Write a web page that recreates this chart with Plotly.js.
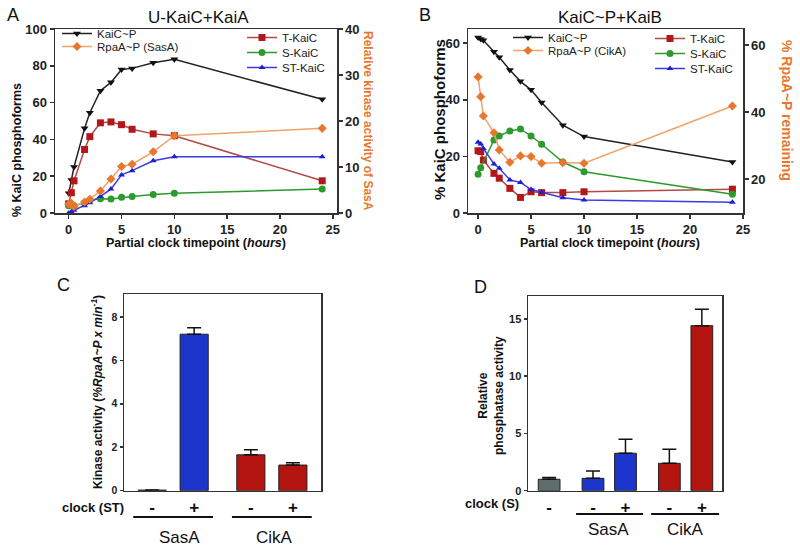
<!DOCTYPE html>
<html>
<head>
<meta charset="utf-8">
<script src="https://cdn.plot.ly/plotly-3.0.1.min.js"></script>
<style>html,body{margin:0;padding:0;background:#fff}#chart{width:800px;height:551px}</style>
</head>
<body>
<div id="chart"></div>
<script>
// Panel A: U-KaiC + KaiA
const timeA = [0, 0.25, 0.5, 1.5, 2, 3, 4, 5, 6, 8, 10, 24];
const kaicPA = [10.7, 18, 25, 46, 54.5, 66.5, 71, 78, 78.6, 81.7, 83.5, 61.8];
const rpaaSasA = [1.9, 2.1, 1.4, 2.4, 3.0, 4.8, 7.4, 10.1, 10.6, 13.3, 16.8, 18.4];
const tKaicA = [5, 11, 17.5, 34.5, 41.5, 49, 49.5, 48, 45.5, 43, 42, 17.5];
const sKaicA = [4, 4.5, 4, 5.5, 7, 7.8, 7.6, 8.5, 9, 10, 10.7, 13];
const stKaicA = [0, 0.7, 1.5, 4, 5.6, 9, 13, 20.7, 23, 28.4, 30.6, 30.6];

// Panel B: KaiC~P + KaiB
const timeB = [0, 0.25, 0.5, 1.5, 2, 3, 4, 5, 6, 8, 10, 24];
const timeBS = [0, 0.25, 1.5, 2, 3, 4, 5, 6, 8, 10, 24];
const kaicPB = [62, 61.5, 61, 57, 55, 50.5, 46.5, 43.5, 39, 31, 27, 18];
const rpaaCikA = [50.5, 44.6, 38.8, 33.8, 28.7, 25, 26.9, 26.7, 24.7, 24.9, 24.7, 41.8];
const tKaicB = [22, 21.7, 18.7, 14, 12.3, 8.7, 5.5, 7.5, 7.2, 7.2, 7.5, 8.4];
const sKaicB = [13.7, 16, 25.8, 27.2, 29, 29.7, 27.2, 24.3, 18, 14.6, 6.6];
const stKaicB = [25, 24.4, 22.8, 17.3, 15.8, 11.7, 10.8, 8.3, 7.3, 5.4, 4.6, 3.8];

// Panel C: kinase activity
const kinaseLabels = ['-', '+', '-', '+'];
const kinaseValues = [0.03, 7.2, 1.65, 1.18];
const kinaseErr = [0, 0.3, 0.23, 0.11];

// Panel D: relative phosphatase activity
const phosLabels = ['-', '-', '+', '-', '+'];
const phosValues = [1.0, 1.08, 3.27, 2.39, 14.41];
const phosErr = [0.15, 0.64, 1.22, 1.22, 1.43];

const FONT = 'Liberation Sans, Arial, sans-serif';
const W = 800, H = 551;
const px = v => v / W;
const py = v => 1 - v / H;

const BLACK = '#111111', ORANGE = '#e8772e', ORANGE_L = '#efa36a';
const RED = '#b3171a', RED_L = '#b24a45', GREEN = '#2c9a2c', BLUE = '#1c1fd2';
const BAR_BLUE = '#1c36cc', BAR_RED = '#b3140f', BAR_GRAY = '#5e6c6c';

// bar slot positions (group gap between SasA and CikA)
const cSlots = [0, 1, 2.35, 3.35];
const dSlots = [0, 1.35, 2.35, 3.7, 4.7];

function line(name, x, y, xa, ya, color, lcolor, symbol, legend, size) {
    return {
        type: 'scatter', mode: 'lines+markers', name: name, x: x, y: y,
        xaxis: xa, yaxis: ya, legend: legend,
        line: { color: lcolor, width: 1.5 },
        marker: { color: color, symbol: symbol, size: size || 7 }
    };
}

const traces = [
    line('KaiC~P', timeA, kaicPA, 'x', 'y', BLACK, '#222', 'triangle-down', 'legend'),
    line('RpaA~P (SasA)', timeA, rpaaSasA, 'x', 'y2', ORANGE, ORANGE_L, 'diamond', 'legend2'),
    line('T-KaiC', timeA, tKaicA, 'x', 'y', RED, RED_L, 'square', 'legend3'),
    line('S-KaiC', timeA, sKaicA, 'x', 'y', GREEN, GREEN, 'circle', 'legend4'),
    line('ST-KaiC', timeA, stKaicA, 'x', 'y', BLUE, '#3b3be6', 'triangle-up', 'legend5', 6),

    line('KaiC~P', timeB, kaicPB, 'x2', 'y3', BLACK, '#222', 'triangle-down', 'legend6'),
    line('RpaA~P (CikA)', timeB, rpaaCikA, 'x2', 'y4', ORANGE, ORANGE_L, 'diamond', 'legend7'),
    line('T-KaiC', timeB, tKaicB, 'x2', 'y3', RED, RED_L, 'square', 'legend8'),
    line('S-KaiC', timeBS, sKaicB, 'x2', 'y3', GREEN, GREEN, 'circle', 'legend9'),
    line('ST-KaiC', timeB, stKaicB, 'x2', 'y3', BLUE, '#3b3be6', 'triangle-up', 'legend10', 6),

    {
        type: 'bar', x: cSlots, y: kinaseValues, xaxis: 'x3', yaxis: 'y5', width: 0.67,
        showlegend: false,
        marker: { color: [BAR_GRAY, BAR_BLUE, BAR_RED, BAR_RED], line: { color: '#222', width: 1 } },
        error_y: { type: 'data', array: kinaseErr, arrayminus: kinaseErr.map(() => 0), color: '#111', thickness: 1.5, width: 7 }
    },
    {
        type: 'bar', x: dSlots, y: phosValues, xaxis: 'x4', yaxis: 'y6', width: 0.67,
        showlegend: false,
        marker: { color: [BAR_GRAY, BAR_BLUE, BAR_BLUE, BAR_RED, BAR_RED], line: { color: '#222', width: 1 } },
        error_y: { type: 'data', array: phosErr, arrayminus: phosErr.map(() => 0), color: '#111', thickness: 1.5, width: 7 }
    }
];

const axBase = {
    showgrid: false, zeroline: false, showline: true, linecolor: '#333', linewidth: 1.5,
    ticks: 'outside', ticklen: 4, tickcolor: '#333', tickwidth: 1.5,
    tickfont: { family: FONT, size: 13, color: '#222', weight: 'bold' }, fixedrange: true
};
const ax = o => Object.assign({}, axBase, o);

// one legend per entry so rows can sit as tightly as in the figure
function leg(x, yCenter) {
    return {
        x: px(x), y: py(yCenter - 14), xanchor: 'left', yanchor: 'top', bgcolor: 'rgba(0,0,0,0)',
        font: { family: FONT, size: 11.5, color: '#222' }, itemwidth: 30
    };
}

function ann(text, x, y, size, o) {
    return Object.assign({
        text: text, x: px(x), y: py(y), xref: 'paper', yref: 'paper', showarrow: false,
        xanchor: 'center', yanchor: 'middle', font: { family: FONT, size: size, color: '#111' }
    }, o || {});
}

const layout = {
    width: W, height: H, margin: { l: 0, r: 0, t: 0, b: 0 },
    paper_bgcolor: '#fff', plot_bgcolor: '#fff',
    font: { family: FONT, color: '#111' },
    xaxis: ax({ domain: [px(55), px(337)], anchor: 'y', range: [-1.3, 25.4], tickvals: [0, 5, 10, 15, 20, 25], mirror: true }),
    yaxis: ax({ domain: [py(213), py(29)], anchor: 'x', range: [0, 100], dtick: 20, mirror: true }),
    yaxis2: ax({ overlaying: 'y', side: 'right', anchor: 'x', range: [0, 40], dtick: 10 }),
    xaxis2: ax({ domain: [px(468), px(743)], anchor: 'y3', range: [-0.95, 25.0], tickvals: [0, 5, 10, 15, 20, 25], mirror: true }),
    yaxis3: ax({ domain: [py(213), py(29)], anchor: 'x2', range: [0, 65], dtick: 20, mirror: true }),
    yaxis4: ax({ overlaying: 'y3', side: 'right', anchor: 'x2', range: [9.85, 64.8], tickvals: [20, 40, 60] }),
    xaxis3: ax({ domain: [px(124), px(321)], anchor: 'y5', range: [-0.67, 4.02], tickvals: cSlots, ticktext: kinaseLabels, ticks: '', mirror: true,
        tickfont: { family: FONT, size: 17, color: '#111', weight: 'bold' } }),
    yaxis5: ax({ domain: [py(490.7), py(294)], anchor: 'x3', range: [0, 9.05], tickvals: [0, 2, 4, 6, 8], mirror: true, ticklen: 3,
        tickfont: { family: FONT, size: 10.5, color: '#222', weight: 'bold' } }),
    xaxis4: ax({ domain: [px(528), px(722)], anchor: 'y6', range: [-0.65, 5.32], tickvals: dSlots, ticktext: phosLabels, ticks: '', mirror: true,
        tickfont: { family: FONT, size: 17, color: '#111', weight: 'bold' } }),
    yaxis6: ax({ domain: [py(490.7), py(296)], anchor: 'x4', range: [0, 17], tickvals: [0, 5, 10, 15], mirror: true, ticklen: 3,
        tickfont: { family: FONT, size: 11, color: '#222', weight: 'bold' } }),

    legend: leg(57, 33),
    legend2: leg(57, 46),
    legend3: leg(242, 37),
    legend4: leg(242, 52),
    legend5: leg(242, 67),
    legend6: leg(508, 37),
    legend7: leg(508, 50),
    legend8: leg(650, 38),
    legend9: leg(650, 53),
    legend10: leg(650, 68),

    shapes: [
        { type: 'line', xref: 'x3', yref: 'paper', x0: -0.45, x1: 1.45, y0: py(517), y1: py(517), line: { color: '#111', width: 2 } },
        { type: 'line', xref: 'x3', yref: 'paper', x0: 1.9, x1: 3.8, y0: py(517), y1: py(517), line: { color: '#111', width: 2 } },
        { type: 'line', xref: 'x4', yref: 'paper', x0: 0.83, x1: 2.89, y0: py(514), y1: py(514), line: { color: '#111', width: 2 } },
        { type: 'line', xref: 'x4', yref: 'paper', x0: 3.14, x1: 5.23, y0: py(514), y1: py(514), line: { color: '#111', width: 2 } }
    ],

    annotations: [
        ann('A', 13, 15, 18),
        ann('B', 425, 15, 18),
        ann('C', 63, 285, 18),
        ann('D', 480, 287, 18),
        ann('U-KaiC+KaiA', 198, 17, 17),
        ann('KaiC~P+KaiB', 610, 17, 17),
        ann('<b>% KaiC phosphoforms</b>', 17, 150, 12.5, { textangle: -90 }),
        ann('<b>Relative kinase activity of SasA</b>', 368, 121, 12, { textangle: 90, font: { family: FONT, size: 12, color: ORANGE } }),
        ann('<b>% KaiC phosphoforms</b>', 439, 119, 15, { textangle: -90 }),
        ann('<b>% RpaA~P remaining</b>', 787, 110, 14, { textangle: 90, font: { family: FONT, size: 14, color: ORANGE } }),
        ann('<b>Partial clock timepoint (<i>hours</i>)</b>', 196, 243, 12.5),
        ann('<b>Partial clock timepoint (<i>hours</i>)</b>', 610, 243, 12.5),
        ann('<b>Kinase activity (<i>%RpaA~P x min<sup>-1</sup></i>)</b>', 97, 392, 12, { textangle: -90 }),
        ann('<b>clock (ST)</b>', 93, 507, 13),
        ann('SasA', 179, 537, 17),
        ann('CikA', 274, 537, 17),
        ann('<b>Relative<br>phosphatase activity</b>', 491, 396, 12, { textangle: -90 }),
        ann('<b>clock (S)</b>', 492, 503, 13),
        ann('SasA', 608, 529, 17),
        ann('CikA', 685, 529, 17)
    ]
};

Plotly.newPlot('chart', traces, layout, { displayModeBar: false, staticPlot: true });
</script>
</body>
</html>
